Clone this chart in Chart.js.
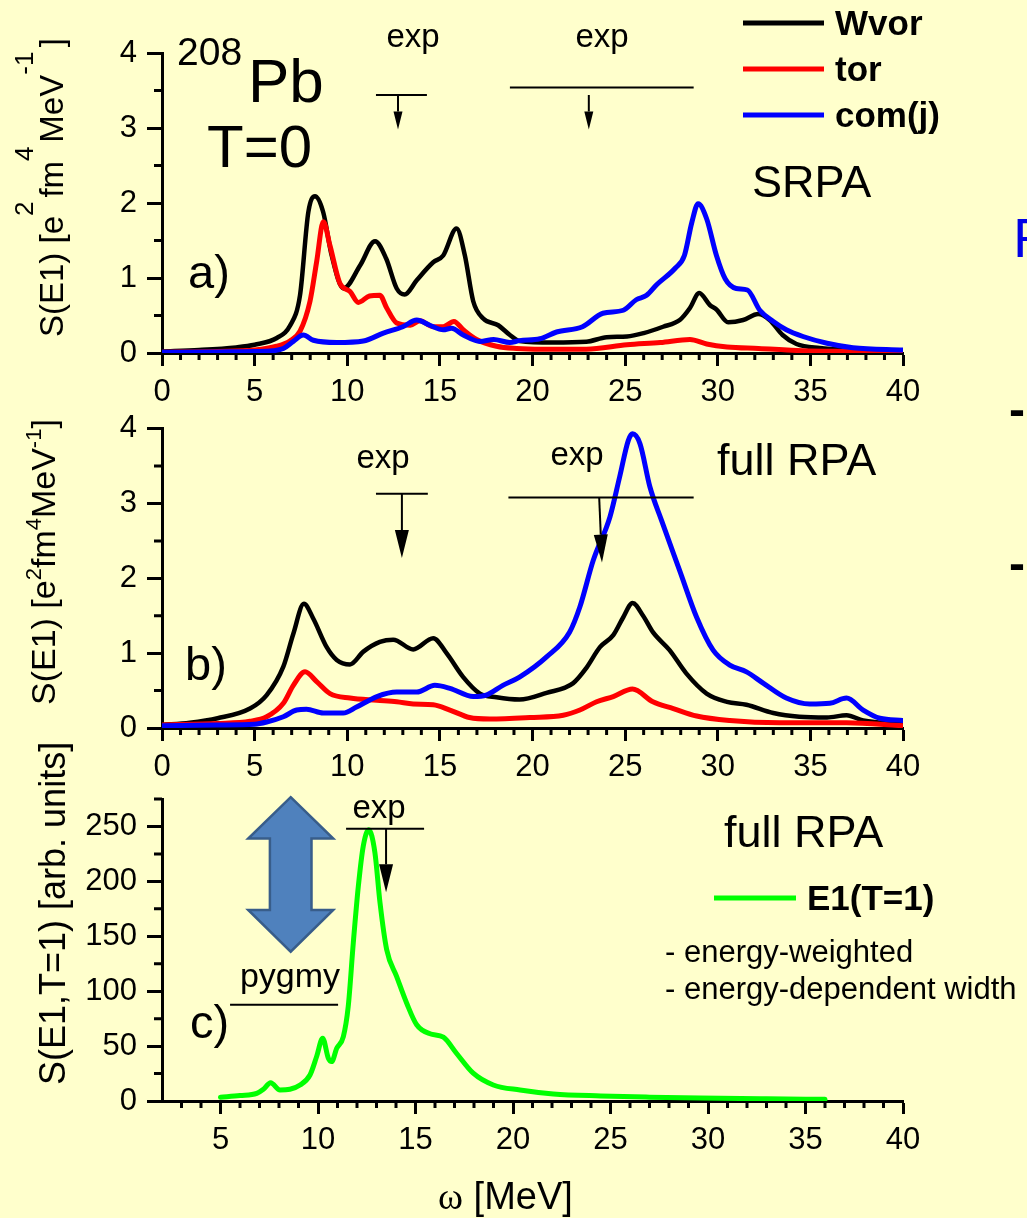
<!DOCTYPE html>
<html>
<head>
<meta charset="utf-8">
<script src="https://cdn.jsdelivr.net/npm/chart.js@4/dist/chart.umd.min.js"></script>
<style>
html, body { margin: 0; padding: 0; background: #ffffcc; }
body { width: 1027px; height: 1218px; position: relative; overflow: hidden; }
canvas { position: absolute; left: 0; }
</style>
</head>
<body>
<canvas id="pa" width="1027" height="430" style="top:0px"></canvas>
<canvas id="pb" width="1027" height="390" style="top:400px"></canvas>
<canvas id="pc" width="1027" height="488" style="top:730px"></canvas>
<script>
// --- a) SRPA, S(E1) vs omega (MeV)
const wvorA_E = [0,2,4,5,6.2,6.9,7.45,7.9,8.26,8.7,9.16,9.8,10.7,11.5,12.1,12.67,13.1,13.75,14.64,15.18,15.9,16.35,16.8,17.34,18.15,18.78,19.3,21.1,22.9,24.0,25.1,26.0,27.05,27.95,28.5,29.0,29.57,29.93,30.56,31.37,32.18,32.8,33.5,34.25,35.5,37.3,40];
const wvorA_S = [0.02,0.04,0.075,0.11,0.2,0.36,0.77,1.88,2.09,1.88,1.3,0.86,1.17,1.49,1.26,0.86,0.78,0.97,1.21,1.3,1.66,1.3,0.69,0.46,0.37,0.24,0.16,0.14,0.15,0.21,0.22,0.265,0.35,0.44,0.6,0.8,0.64,0.58,0.41,0.44,0.52,0.44,0.24,0.12,0.066,0.04,0.02];
const torA_E = [0,3,5,6.19,6.9,7.45,7.99,8.35,8.71,9.07,9.6,10.15,10.6,11.2,11.76,12.13,12.67,13.4,13.92,14.64,15.18,15.76,16.26,16.98,18.06,19.14,20.5,22.9,25.1,26.9,28.5,29.4,30.5,32.2,34.6,37,40];
const torA_S = [0.01,0.02,0.04,0.09,0.16,0.29,0.69,1.22,1.75,1.43,0.93,0.82,0.675,0.76,0.77,0.6,0.4,0.37,0.43,0.35,0.35,0.42,0.31,0.18,0.09,0.06,0.05,0.05,0.11,0.14,0.18,0.12,0.08,0.06,0.03,0.02,0.01];
const comA_E = [0,3,5,6.0,6.55,7.09,7.63,8.17,9.43,10.87,11.95,13.0,13.75,14.46,15.18,15.63,16.26,17.16,17.9,18.78,19.3,20.4,21.3,22.7,23.8,24.9,25.6,26.16,26.7,27.7,28.2,28.6,28.94,29.4,29.93,30.4,31.0,31.6,32.27,33.0,33.7,34.6,35.9,37.3,40];
const comA_S = [0.01,0.015,0.02,0.03,0.06,0.155,0.24,0.17,0.14,0.16,0.265,0.35,0.44,0.37,0.31,0.33,0.24,0.155,0.18,0.14,0.165,0.19,0.28,0.35,0.53,0.57,0.71,0.77,0.91,1.13,1.3,1.74,1.99,1.79,1.3,0.99,0.86,0.84,0.57,0.42,0.31,0.22,0.13,0.07,0.04];

// --- b) full RPA
const wvorB_E = [0,1.5,3,4.75,5.65,6.55,7.09,7.66,8.17,8.89,9.43,10.15,10.87,11.76,12.48,13.56,14.64,15.36,16.26,17.16,18.06,19.3,20.76,22.2,22.9,23.64,24.36,24.9,25.4,25.97,26.5,27.4,28.3,29.4,30.5,31.55,33.0,34.4,35.9,36.95,37.85,40];
const wvorB_S = [0.04,0.07,0.13,0.26,0.44,0.82,1.26,1.66,1.46,1.08,0.91,0.85,1.02,1.15,1.18,1.05,1.2,1.0,0.68,0.46,0.41,0.38,0.47,0.6,0.8,1.08,1.24,1.48,1.67,1.5,1.28,1.04,0.73,0.46,0.35,0.31,0.2,0.15,0.14,0.17,0.1,0.05];
const torB_E = [0,3,4.75,5.65,6.55,7.09,7.72,8.35,9.07,10.15,11.6,12.67,13.56,14.64,15.54,16.6,17.7,19.86,21.66,22.56,23.46,24.36,25.4,26.5,27.6,28.86,30.65,33.35,36.95,40];
const torB_S = [0.04,0.06,0.09,0.15,0.33,0.57,0.75,0.62,0.46,0.4,0.37,0.35,0.32,0.31,0.24,0.14,0.12,0.14,0.17,0.24,0.35,0.42,0.52,0.35,0.26,0.16,0.1,0.07,0.07,0.03];
const comB_E = [0,3,5,5.65,6.55,7.27,7.8,8.71,9.78,10.5,11.6,12.67,13.75,14.73,15.54,16.8,17.5,18.4,19.3,20.76,22.0,22.56,23.28,24.18,24.7,25.17,25.4,25.8,26.34,26.97,27.95,28.86,29.75,30.65,31.55,32.45,33.7,34.97,36.05,36.95,37.85,38.75,40];
const comB_S = [0.03,0.04,0.05,0.08,0.15,0.24,0.25,0.2,0.2,0.28,0.42,0.48,0.48,0.57,0.53,0.42,0.44,0.57,0.68,0.95,1.28,1.62,2.24,2.82,3.35,3.84,3.93,3.8,3.22,2.77,2.1,1.48,1.04,0.84,0.75,0.6,0.4,0.32,0.33,0.4,0.24,0.13,0.1];

// --- c) E1(T=1), arb. units
const e1C_E = [5,6.0,6.86,7.2,7.57,8.05,8.56,9.08,9.59,9.93,10.24,10.53,10.7,10.96,11.3,11.55,11.81,12.07,12.32,12.6,12.92,13.18,13.52,14.03,14.55,15.06,15.74,16.43,17.1,17.96,18.99,20.36,22.07,24.5,27,29.6,33,36];
const e1C_S = [3.4,5,7,10.7,16.7,10,10.7,14.6,23.7,40.5,57.2,39,35.9,48,58.7,86,144,195.7,232,247,226,180.5,138,113.5,89,69.4,61.2,58.2,43.5,25.3,14.6,10,6.4,4.6,3.5,2.7,2,1.5];

const xTicksAB = [0,5,10,15,20,25,30,35,40];
const yTicksAB = [0,1,2,3,4];
const xTicksC = [5,10,15,20,25,30,35,40];
const yTicksC = [0,50,100,150,200,250];

const SANS = '"Liberation Sans", Arial, sans-serif';
const SERIF = '"Liberation Serif", "Times New Roman", serif';
Chart.defaults.font.family = SANS;
Chart.defaults.color = '#000';

function pts(E, S) { return E.map((e, i) => ({x: e, y: S[i]})); }

function series(label, E, S, color, order, width) {
  return {
    label, data: pts(E, S), borderColor: color, backgroundColor: color,
    borderWidth: width, pointRadius: 0, fill: false, order,
    cubicInterpolationMode: 'monotone', borderJoinStyle: 'round', borderCapStyle: 'round'
  };
}

function axis(min, max, ticks, tickLen, pad, size) {
  return {
    type: 'linear', min, max,
    afterBuildTicks: s => { s.ticks = ticks.map(v => ({value: v})); },
    ticks: {font: {size: 31}, padding: pad, color: '#000', maxRotation: 0, autoSkip: false},
    grid: {drawOnChartArea: false, tickLength: tickLen, tickWidth: 3, tickColor: '#000'},
    border: {color: '#000', width: 3},
    afterFit: s => { if (s.isHorizontal()) s.height = size; else s.width = size; }
  };
}

function label(ctx, s, x, y, size, o = {}) {
  ctx.save();
  ctx.font = (o.bold ? 'bold ' : '') + size + 'px ' + (o.family || SANS);
  ctx.fillStyle = o.color || '#000';
  ctx.textAlign = o.align || 'left';
  ctx.textBaseline = 'alphabetic';
  ctx.fillText(s, x, y);
  ctx.restore();
}

// rotated axis title with superscript pieces; parts = [[text, isSup], ...]
function vtitle(ctx, parts, x, y, size, supSize, raise, supAdvance) {
  ctx.save();
  ctx.translate(x, y);
  ctx.rotate(-Math.PI / 2);
  ctx.fillStyle = '#000';
  ctx.textBaseline = 'alphabetic';
  let cur = 0;
  parts.forEach(([t, sup]) => {
    ctx.font = (sup ? supSize : size) + 'px ' + SANS;
    ctx.fillText(t, cur, sup ? -raise : 0);
    if (!sup || supAdvance) cur += ctx.measureText(t).width;
  });
  ctx.restore();
}

function minorTicks(chart, xs, ys) {
  const {ctx, chartArea: a, scales: {x, y}} = chart;
  ctx.save();
  ctx.strokeStyle = '#000';
  ctx.lineWidth = 3;
  ctx.beginPath();
  xs.forEach(v => { const p = x.getPixelForValue(v); ctx.moveTo(p, a.bottom); ctx.lineTo(p, a.bottom + 7); });
  ys.forEach(v => { const p = y.getPixelForValue(v); ctx.moveTo(a.left, p); ctx.lineTo(a.left - 8, p); });
  ctx.stroke();
  ctx.restore();
}

// "exp" bar plus arrow, all in data units
function expMark(chart, lx0, lx1, ly, ax0, ay0, ax1, ay1, head, hw) {
  const {ctx, scales: {x, y}} = chart;
  const X = v => x.getPixelForValue(v), Y = v => y.getPixelForValue(v);
  ctx.save();
  ctx.strokeStyle = '#000';
  ctx.fillStyle = '#000';
  ctx.lineWidth = 2;
  ctx.beginPath(); ctx.moveTo(X(lx0), Y(ly)); ctx.lineTo(X(lx1), Y(ly)); ctx.stroke();
  if (ax0 !== null) {
    const x0 = X(ax0), y0 = Y(ay0), x1 = X(ax1), y1 = Y(ay1);
    const ang = Math.atan2(y1 - y0, x1 - x0);
    const bx = x1 - Math.cos(ang) * head, by = y1 - Math.sin(ang) * head;
    ctx.beginPath(); ctx.moveTo(x0, y0); ctx.lineTo(bx, by); ctx.stroke();
    const nx = -Math.sin(ang) * hw / 2, ny = Math.cos(ang) * hw / 2;
    ctx.beginPath(); ctx.moveTo(x1, y1); ctx.lineTo(bx + nx, by + ny); ctx.lineTo(bx - nx, by - ny);
    ctx.closePath(); ctx.fill();
  }
  ctx.restore();
}

function legend(ctx, datasets, x0, x1, xt, ys, size) {
  datasets.forEach((d, i) => {
    ctx.save();
    ctx.strokeStyle = d.borderColor;
    ctx.lineWidth = 5;
    ctx.beginPath(); ctx.moveTo(x0, ys[i]); ctx.lineTo(x1, ys[i]); ctx.stroke();
    ctx.restore();
    label(ctx, d.label, xt, ys[i] + 12, size, {bold: true});
  });
}

const intsAB = [], intsC = [];
for (let v = 1; v < 40; v++) if (v % 5) intsAB.push(v);
for (let v = 3; v < 40; v++) if (v % 5) intsC.push(v);

function baseOptions(pad, xMin, xTicks, yMax, yTicks, xSize) {
  return {
    responsive: false, animation: false, devicePixelRatio: 1,
    layout: {padding: pad},
    plugins: {legend: {display: false}, tooltip: {enabled: false}},
    scales: {
      x: axis(xMin, 40, xTicks, 13, 8, xSize),
      y: axis(0, yMax, yTicks, 15, 10, 162)
    }
  };
}

// ---------- panel a
new Chart(document.getElementById('pa'), {
  type: 'line',
  data: {datasets: [
    series('Wvor', wvorA_E, wvorA_S, '#000000', 3, 4.5),
    series('tor', torA_E, torA_S, '#ff0000', 2, 5),
    series('com(j)', comA_E, comA_S, '#0000ff', 1, 5)
  ]},
  options: baseOptions({left: 0, right: 124, top: 53, bottom: 25}, 0, xTicksAB, 4, yTicksAB, 52),
  plugins: [{
    id: 'decoA',
    afterDraw(chart) {
      const ctx = chart.ctx;
      minorTicks(chart, intsAB, [0.5, 1.5, 2.5, 3.5]);
      expMark(chart, 11.55, 14.3, 3.44, 12.74, 3.44, 12.74, 2.98, 18, 9);
      expMark(chart, 18.78, 28.7, 3.54, 23.04, 3.44, 23.04, 2.98, 18, 9);
      label(ctx, 'exp', 413, 47, 33, {align: 'center'});
      label(ctx, 'exp', 602, 47, 33, {align: 'center'});
      label(ctx, '208', 177, 65, 39);
      label(ctx, 'Pb', 248, 102, 62);
      label(ctx, 'T=0', 207, 167, 60);
      label(ctx, 'a)', 188, 288, 47);
      label(ctx, 'SRPA', 752, 197, 45);
      label(ctx, 'R', 1013, 257, 56, {color: '#0000e6'});
      legend(ctx, chart.data.datasets, 743, 824, 835, [23, 69, 115], 35);
      vtitle(ctx, [['S(E1) [e', 0], ['2', 1], ['  fm', 0], ['4', 1], ['  MeV', 0], ['-1', 1], ['   ]', 0]],
        63, 337, 33, 26, 30, false);
    }
  }]
});

// ---------- panel b
new Chart(document.getElementById('pb'), {
  type: 'line',
  data: {datasets: [
    series('Wvor', wvorB_E, wvorB_S, '#000000', 3, 4.5),
    series('tor', torB_E, torB_S, '#ff0000', 2, 5),
    series('com(j)', comB_E, comB_S, '#0000ff', 1, 5)
  ]},
  options: baseOptions({left: 0, right: 124, top: 28, bottom: 12}, 0, xTicksAB, 4, yTicksAB, 50),
  plugins: [{
    id: 'decoB',
    afterDraw(chart) {
      const ctx = chart.ctx, o = 400;
      minorTicks(chart, intsAB, [0.5, 1.5, 2.5, 3.5]);
      expMark(chart, 11.55, 14.35, 3.13, 12.95, 3.13, 12.95, 2.27, 28, 14);
      expMark(chart, 18.7, 28.7, 3.08, 23.6, 3.08, 23.75, 2.21, 28, 14);
      label(ctx, 'exp', 383, 468 - o, 33, {align: 'center'});
      label(ctx, 'exp', 577, 465 - o, 33, {align: 'center'});
      label(ctx, 'b)', 185, 680 - o, 47);
      label(ctx, 'full RPA', 717, 475 - o, 45);
      label(ctx, '-', 1009, 426 - o, 48, {bold: true});
      label(ctx, '-', 1009, 580 - o, 48, {bold: true});
      vtitle(ctx, [['S(E1) [e', 0], ['2', 1], ['fm', 0], ['4', 1], ['MeV', 0], ['-1', 1], [']', 0]],
        55, 705 - o, 34, 22, 14, true);
    }
  }]
});

// ---------- panel c
new Chart(document.getElementById('pc'), {
  type: 'line',
  data: {datasets: [
    series('E1(T=1)', e1C_E, e1C_S, '#00ff00', 1, 5)
  ]},
  options: baseOptions({left: 0, right: 124, top: 69, bottom: 57}, 2, xTicksC, 275, yTicksC, 60),
  plugins: [{
    id: 'decoC',
    afterDraw(chart) {
      const ctx = chart.ctx, o = 730;
      const {x, y} = chart.scales;
      minorTicks(chart, intsC, [25, 75, 125, 175, 225, 275]);
      expMark(chart, 11.44, 15.44, 248, 13.49, 248, 13.49, 190, 28, 14);
      expMark(chart, 5.49, 11.03, 87.7, null);
      label(ctx, 'exp', 379, 818 - o, 33, {align: 'center'});
      label(ctx, 'pygmy', 290, 987 - o, 34, {align: 'center'});
      label(ctx, 'c)', 190, 1038 - o, 47);
      label(ctx, 'full RPA', 724, 847 - o, 45);
      legend(ctx, chart.data.datasets, 714, 796, 807, [898 - o], 35);
      label(ctx, '- energy-weighted', 665, 962 - o, 31);
      label(ctx, '- energy-dependent width', 665, 999 - o, 31);
      // blue double-headed arrow between pygmy and GDR
      const cx = x.getPixelForValue(8.6);
      const yt = y.getPixelForValue(276.7), y1 = y.getPixelForValue(239);
      const y2 = y.getPixelForValue(174), yb = y.getPixelForValue(136);
      const hw = 42.5, sw = 20.8;
      ctx.save();
      ctx.beginPath();
      ctx.moveTo(cx, yt); ctx.lineTo(cx + hw, y1); ctx.lineTo(cx + sw, y1); ctx.lineTo(cx + sw, y2);
      ctx.lineTo(cx + hw, y2); ctx.lineTo(cx, yb); ctx.lineTo(cx - hw, y2); ctx.lineTo(cx - sw, y2);
      ctx.lineTo(cx - sw, y1); ctx.lineTo(cx - hw, y1); ctx.closePath();
      ctx.fillStyle = '#4f81bd'; ctx.fill();
      ctx.strokeStyle = '#385d8a'; ctx.lineWidth = 2.5; ctx.lineJoin = 'miter'; ctx.stroke();
      ctx.restore();
      // axis titles
      vtitle(ctx, [['S(E1,T=1) [arb. units]', 0]], 65, 1085 - o, 36, 36, 0, true);
      ctx.save();
      ctx.font = '38px ' + SERIF;
      const wOmega = ctx.measureText('\u03c9').width;
      ctx.restore();
      label(ctx, '\u03c9', 438, 1209 - o, 38, {family: SERIF});
      label(ctx, ' [MeV]', 438 + wOmega, 1209 - o, 38);
    }
  }]
});
</script>
</body>
</html>
